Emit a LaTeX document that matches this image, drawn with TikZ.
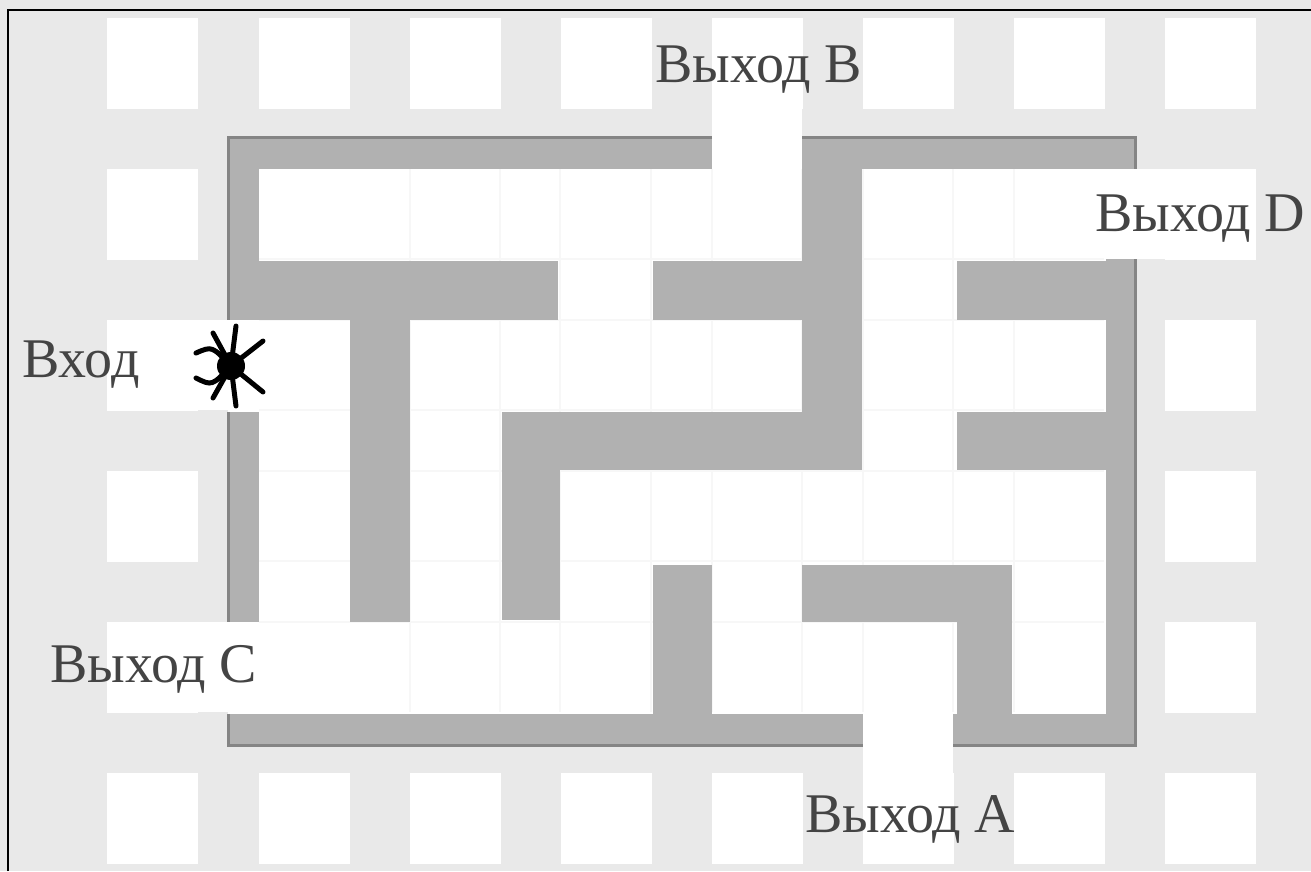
\documentclass[tikz,border=0pt]{standalone}
\usepackage{fontspec}
\setmainfont{Liberation Serif}
\definecolor{gridgray}{HTML}{E9E9E9}
\definecolor{wallgray}{HTML}{B1B1B1}
\definecolor{edgegray}{HTML}{858585}
\definecolor{cellline}{HTML}{F7F7F7}
\definecolor{labelgray}{HTML}{444444}

\begin{document}
\begin{tikzpicture}[
    x=1pt, y=-1pt,
    wall/.style={fill=wallgray},
    edge/.style={draw=edgegray, line width=3pt},
    leg/.style={draw=black, line width=5pt, line cap=round},
    label/.style={inner sep=0pt, text=labelgray, font=\fontsize{56}{62}\selectfont, anchor=base west}
]
\useasboundingbox (0,0) rectangle (1311,871);
\fill[gridgray] (0,0) rectangle (1311,871);
\draw[black, line width=2.5pt] (8,871) -- (8,10) -- (1311,10);

% white squares of the grid
\foreach \x in {107,259,410,561,712,863,1014,1165}
  \foreach \y in {18,169,320,471,622,773}
    \fill[white] (\x,\y) rectangle (\x+91,\y+91);

% inside of the maze and the openings
\fill[white] (228,137) rectangle (1135,745);
\fill[white] (712,108) rectangle (802,169);
\fill[white] (1104,169) rectangle (1256,259);
\fill[white] (107,320) rectangle (259,410);
\fill[white] (107,622) rectangle (259,712);
\fill[white] (863,712) rectangle (953,773);

% faint cell lines
\foreach \x in {410,500,560,651,712,802,863,953,1014}
  \draw[cellline, line width=1.5pt] (\x,169) -- (\x,712);
\foreach \y in {259,320,410,471,561,622}
  \draw[cellline, line width=1.5pt] (259,\y) -- (1104,\y);

% outer walls
\fill[wall] (228,137) rectangle (712,169);
\fill[wall] (802,137) rectangle (1135,169);
\fill[wall] (228,137) rectangle (259,320);
\fill[wall] (228,412) rectangle (259,622);
\fill[wall] (228,714) rectangle (863,745);
\fill[wall] (953,714) rectangle (1135,745);
\fill[wall] (1106,259) rectangle (1135,745);

% inner walls
\fill[wall] (259,261) rectangle (558,320);
\fill[wall] (653,261) rectangle (802,320);
\fill[wall] (802,137) rectangle (862,470);
\fill[wall] (957,261) rectangle (1106,320);
\fill[wall] (350,261) rectangle (410,622);
\fill[wall] (502,412) rectangle (802,470);
\fill[wall] (502,412) rectangle (560,620);
\fill[wall] (957,412) rectangle (1106,470);
\fill[wall] (653,565) rectangle (712,714);
\fill[wall] (802,565) rectangle (1012,622);
\fill[wall] (957,565) rectangle (1012,714);

% dark outer edge
\draw[edge] (712,137) -- (228,137) -- (228,320);
\draw[edge] (802,137) -- (1135,137) -- (1135,169);
\draw[edge] (228,412) -- (228,622);
\draw[edge] (228,714) -- (228,745) -- (863,745);
\draw[edge] (953,745) -- (1135,745) -- (1135,259);

% spider at the entrance
\fill[black] (231,366) circle (14);
\draw[leg] (236,326) -- (231,366) -- (236,406);
\draw[leg] (213,333) -- (231,366) -- (263,392);
\draw[leg] (263,341) -- (231,366) -- (213,398);
\draw[leg] (196,353) .. controls (212,346) .. (231,366);
\draw[leg] (196,378) .. controls (212,386) .. (231,366);

\node[label] (entry) at (22,377) {Вход};
\node[label] (exitB) at (655,82) {Выход B};
\node[label] (exitC) at (50,682) {Выход C};
\node[label] (exitA) at (805,832) {Выход A};
\node[label] (exitD) at (1095,231) {Выход D};
\end{tikzpicture}
\end{document}
